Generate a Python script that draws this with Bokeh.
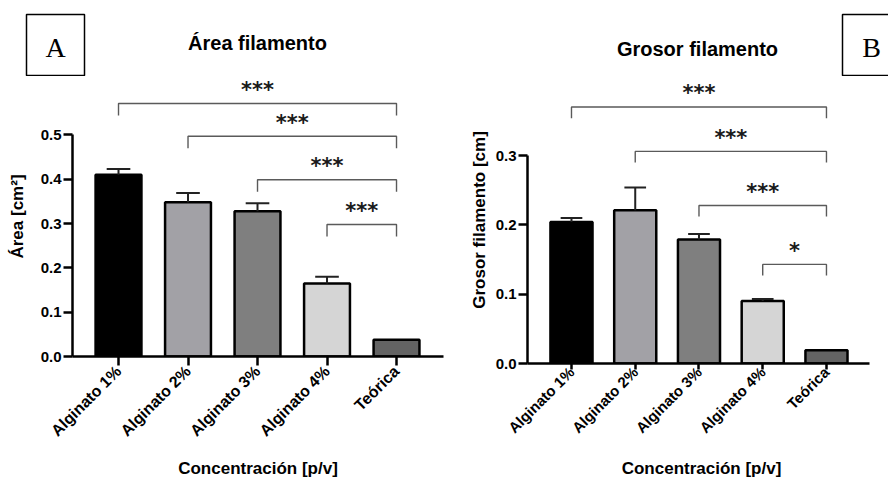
import numpy as np
from bokeh.plotting import figure
from bokeh.layouts import row, column
from bokeh.models import FixedTicker, Label, PrintfTickFormatter, Range1d
from bokeh.core.properties import value
from bokeh.embed import file_html
from bokeh.resources import INLINE

categories = ["Alginato 1%", "Alginato 2%", "Alginato 3%", "Alginato 4%", "Teórica"]
area_mean = [0.410, 0.348, 0.328, 0.165, 0.038]
area_err = [0.013, 0.021, 0.018, 0.015, 0.0]
grosor_mean = [0.204, 0.221, 0.179, 0.090, 0.019]
grosor_err = [0.006, 0.033, 0.008, 0.003, 0.0]
bar_colors = ["#000000", "#a2a1a6", "#7f7f7f", "#d5d5d5", "#636363"]
area_ticks = [0.0, 0.1, 0.2, 0.3, 0.4, 0.5]
grosor_ticks = [0.0, 0.1, 0.2, 0.3]
# significance comparisons: (from, to, stars)
area_sig = [(0, 4, "***"), (1, 4, "***"), (2, 4, "***"), (3, 4, "***")]
grosor_sig = [(0, 4, "***"), (1, 4, "***"), (2, 4, "***"), (3, 4, "*")]
panel_titles = ["Área filamento", "Grosor filamento"]
panel_letters = ["A", "B"]
x_title = "Concentración [p/v]"

FONT = "Liberation Sans"
HDR_H = 76
FTR_H = 24


def panel(ylabel, means, errs, ticks, sig, bracket_y, stub, star_off,
          x_rng, y_top, borders, ylab_standoff, tick_standoff, xlab_size, tick_len):
    left, right, top, bottom = borders
    p = figure(width=444, height=479 - HDR_H - FTR_H, output_backend="svg",
               toolbar_location=None, x_range=x_rng, y_range=(0, y_top),
               min_border_left=left, min_border_right=right,
               min_border_top=top, min_border_bottom=bottom)
    p.outline_line_color = None
    p.xgrid.grid_line_color = None
    p.ygrid.grid_line_color = None
    idx = list(range(len(categories)))
    p.vbar(x=idx, top=means, width=0.66, fill_color=bar_colors,
           line_color="black", line_width=2.5)
    ex = [i for i, e in zip(idx, errs) if e > 0]
    ey0 = [m for m, e in zip(means, errs) if e > 0]
    ey1 = [m + e for m, e in zip(means, errs) if e > 0]
    p.segment(x0=ex, y0=ey0, x1=ex, y1=ey1, line_color="#222222", line_width=2)
    p.segment(x0=[x - 0.17 for x in ex], y0=ey1, x1=[x + 0.17 for x in ex], y1=ey1,
              line_color="#222222", line_width=2)
    # significance brackets
    xs, ys = [], []
    for (a, b, s), by in zip(sig, bracket_y):
        xs.append([a, a, b, b])
        ys.append([by - stub, by, by, by - stub])
        p.add_layout(Label(x=(a + b) / 2, y=by + star_off, text=s, text_font="DejaVu Sans",
                           text_font_style="bold", text_font_size="21px",
                           text_align="center", text_baseline="middle",
                           text_color="#1a1a1a"))
    p.multi_line(xs=xs, ys=ys, line_color="#5a5a5a", line_width=1.4)

    p.xaxis.ticker = FixedTicker(ticks=idx)
    p.xaxis.major_label_overrides = {i: c for i, c in zip(idx, categories)}
    p.xaxis.major_label_orientation = np.pi / 4
    p.yaxis.ticker = FixedTicker(ticks=ticks)
    p.yaxis.formatter = PrintfTickFormatter(format="%.1f")
    p.yaxis.bounds = (0, ticks[-1])
    for ax in (p.xaxis, p.yaxis):
        ax.axis_line_width = 2.5
        ax.major_tick_line_width = 2.5
        ax.major_tick_in = 0
        ax.minor_tick_line_color = None
        ax.major_label_text_font = FONT
        ax.major_label_text_font_style = "bold"
        ax.major_label_text_color = "black"
        ax.axis_label_text_font = FONT
        ax.axis_label_text_font_style = "bold"
        ax.axis_label_text_font_size = "17px"
        ax.axis_label_text_color = "black"
    p.yaxis.major_tick_out = 9
    p.xaxis.major_tick_out = tick_len
    p.xaxis.major_label_text_font_size = xlab_size
    p.yaxis.major_label_text_font_size = "15px"
    p.yaxis.major_label_standoff = 2
    p.xaxis.major_label_standoff = tick_standoff
    p.yaxis.axis_label = ylabel
    p.yaxis.axis_label_standoff = ylab_standoff
    return p


def strip(height):
    f = figure(width=888, height=height, output_backend="svg", toolbar_location=None,
               x_range=Range1d(0, 888), y_range=Range1d(height, 0),
               x_axis_type=None, y_axis_type=None,
               min_border_left=0, min_border_right=0, min_border_top=0, min_border_bottom=0)
    f.outline_line_color = None
    f.xgrid.grid_line_color = None
    f.ygrid.grid_line_color = None
    return f


# header with panel titles and letter boxes
hdr = strip(HDR_H)
box_cx = [55, 871]
box_cy = [44.5, 44.5]
hdr.rect(x=box_cx, y=box_cy, width=58, height=61, fill_color="white",
         line_color="black", line_width=1.5)
hdr.text(x=box_cx, y=[47, 47], text=panel_letters, text_font=value("Liberation Serif"),
         text_font_size="28px", text_align="center", text_baseline="middle",
         text_color="black")
hdr.text(x=[257, 697], y=[42, 48], text=panel_titles, text_font=value(FONT),
         text_font_style="bold", text_font_size="20px", text_align="center",
         text_baseline="middle", text_color="black")

# footer with the x-axis titles of both panels
ftr = strip(FTR_H)
ftr.text(x=[257.5, 701], y=[13, 13], text=[x_title, x_title], text_font=value(FONT),
         text_font_style="bold", text_font_size="17px", text_align="center",
         text_baseline="middle", text_color="black")

pA = panel("Área [cm²]", area_mean, area_err, area_ticks, area_sig,
           [0.571, 0.497, 0.399, 0.298], 0.027, 0.030,
           (-0.662, 4.676), 0.632, (72, 1, 0, 99), 11, 3, "16px", 9)
pB = panel("Grosor filamento [cm]", grosor_mean, grosor_err, grosor_ticks,
           grosor_sig, [0.370, 0.306, 0.228, 0.143], 0.016, 0.020,
           (-0.69, 4.675), 0.4141, (83, 19, 0, 92), 4, 0, "15px", 6)

layout = column(hdr, row(column(pA), column(pB)), ftr, spacing=0)
open("out.html", "w").write(file_html(layout, INLINE))
